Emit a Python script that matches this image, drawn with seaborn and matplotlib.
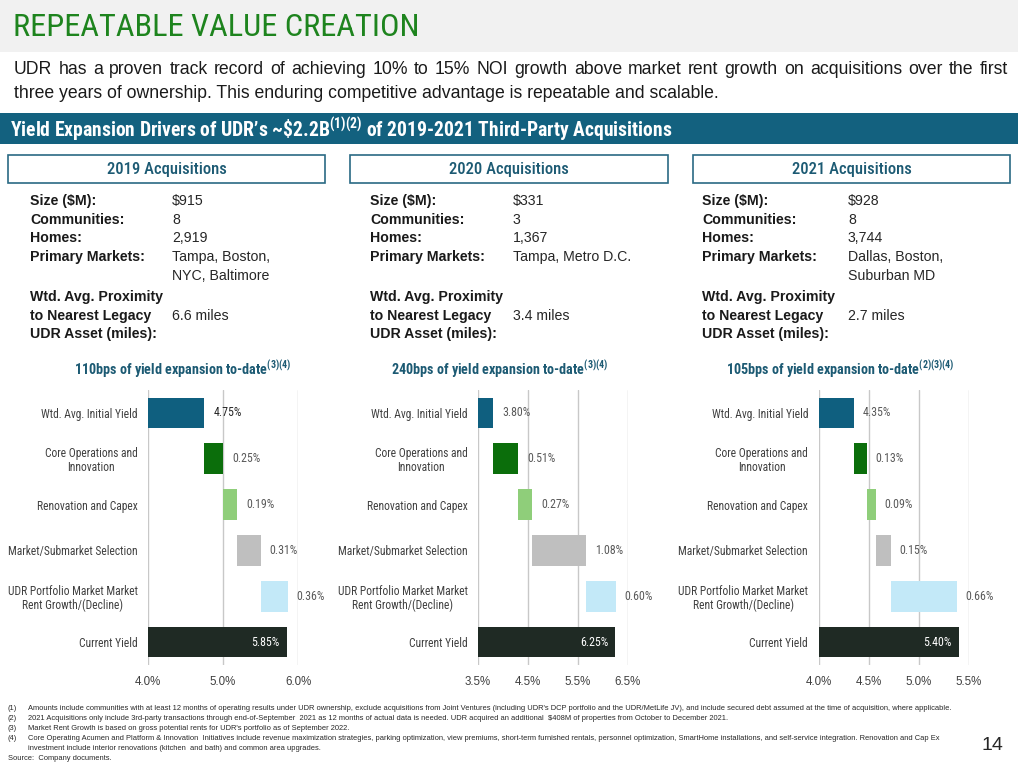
import numpy as np
import pandas as pd
import matplotlib
matplotlib.use("Agg")
import matplotlib.pyplot as plt
import seaborn as sns
from matplotlib import font_manager as fm
from matplotlib.patches import Rectangle

# ------------------------------------------------------------------ data
categories = ["Wtd. Avg. Initial Yield", "Core Operations and\nInnovation",
              "Renovation and Capex", "Market/Submarket Selection",
              "UDR Portfolio Market Market\nRent Growth/(Decline)", "Current Yield"]
yields_2019 = [4.75, 0.25, 0.19, 0.31, 0.36, 5.85]
yields_2020 = [3.80, 0.51, 0.27, 1.08, 0.60, 6.25]
yields_2021 = [4.35, 0.13, 0.09, 0.15, 0.66, 5.40]
xticks_2019 = [4.0, 5.0, 6.0]
xticks_2020 = [3.5, 4.5, 5.5, 6.5]
xticks_2021 = [4.0, 4.5, 5.0, 5.5]
chart_titles = ["110bps of yield expansion to-date",
                "240bps of yield expansion to-date",
                "105bps of yield expansion to-date"]
chart_notes = ["(3)(4)", "(3)(4)", "(2)(3)(4)"]
panel_names = ["2019 Acquisitions", "2020 Acquisitions", "2021 Acquisitions"]
size_m = ["$915", "$331", "$928"]
communities = ["8", "3", "8"]
homes = ["2,919", "1,367", "3,744"]
primary_markets = [["Tampa, Boston,", "NYC, Baltimore"],
                   ["Tampa, Metro D.C.", ""],
                   ["Dallas, Boston,", "Suburban MD"]]
proximity = ["6.6 miles", "3.4 miles", "2.7 miles"]
info_labels = ["Size ($M):", "Communities:", "Homes:", "Primary Markets:", "",
               "Wtd. Avg. Proximity", "to Nearest Legacy", "UDR Asset (miles):"]
footnotes = [
    ("(1)", "Amounts include communities with at least 12 months of operating results under UDR ownership, exclude acquisitions from Joint Ventures (including UDR's DCP portfolio and the UDR/MetLife JV), and include secured debt assumed at the time of acquisition, where applicable."),
    ("(2)", "2021 Acquisitions only include 3rd-party transactions through end-of-September  2021 as 12 months of actual data is needed. UDR acquired an additional  $408M of properties from October to December 2021."),
    ("(3)", "Market Rent Growth is based on gross potential rents for UDR's portfolio as of September 2022."),
    ("(4)", "Core Operating Acumen and Platform & Innovation  Initiatives include revenue maximization strategies, parking optimization, view premiums, short-term furnished rentals, personnel optimization, SmartHome installations, and self-service integration. Renovation and Cap Ex"),
    ("", "investment include interior renovations (kitchen  and bath) and common area upgrades."),
    ("Source:", "Company documents."),
]
subtitle_lines = ["UDR has a proven track record of achieving 10% to 15% NOI growth above market rent growth on acquisitions over the first",
                  "three years of ownership. This enduring competitive advantage is repeatable and scalable."]

# ------------------------------------------------------------------ style
bar_colors = ["#0f5f7f", "#0b6e0b", "#8fce7a", "#bfbfbf", "#c3e9f8", "#1f2a24"]
TEAL = "#13617f"
TEAL_TXT = "#1c5a73"
GREEN_TITLE = "#1e841e"

sns.set_theme(style="white")
_avail = {f.name for f in fm.fontManager.ttflist}


def pick(*names):
    for n in names:
        if n in _avail:
            return n
    return "DejaVu Sans"


SANS = pick("Liberation Sans", "Arial", "DejaVu Sans")
NARROW = pick("Liberation Sans Narrow", "Roboto Condensed", "Open Sans Condensed")
NF = 1.0
if NARROW == "DejaVu Sans":
    NARROW = SANS
    NF = 0.84
plt.rcParams["font.family"] = [SANS, "DejaVu Sans"]
plt.rcParams["mathtext.fontset"] = "custom"
plt.rcParams["mathtext.rm"] = NARROW
plt.rcParams["mathtext.bf"] = NARROW + ":bold"
plt.rcParams["mathtext.it"] = NARROW

W, H = 1018, 768
fig = plt.figure(figsize=(W / 100, H / 100), dpi=100)
fig.patch.set_facecolor("white")


def T(x, y, s, **kw):
    kw.setdefault("va", "center")
    kw.setdefault("ha", "left")
    return fig.text(x / W, 1 - y / H, s, **kw)


def R(x0, y0, x1, y1, **kw):
    fig.patches.append(Rectangle((x0 / W, 1 - y1 / H), (x1 - x0) / W, (y1 - y0) / H,
                                 transform=fig.transFigure, **kw))


def justified(x0, x1, y, text, **kw):
    words = text.split()
    r = fig.canvas.get_renderer()
    arts = [T(x0, y, w, **kw) for w in words]
    widths = [a.get_window_extent(r).width for a in arts]
    gap = (x1 - x0 - sum(widths)) / (len(words) - 1)
    x = x0
    for a, w in zip(arts, widths):
        a.set_x(x / W)
        x += w + gap


# header band
R(0, 0, W, 52, facecolor="#f1f1f1", edgecolor="none", zorder=0)
T(13, 27, "REPEATABLE VALUE CREATION", size=23.3 * NF, color=GREEN_TITLE, family=NARROW)
justified(14, 1008, 69, subtitle_lines[0], size=12.7, color="#1a1a1a", family=SANS)
T(14, 93, subtitle_lines[1], size=12.7, color="#1a1a1a", family=SANS)

# teal band
R(0, 113, W, 144, facecolor=TEAL, edgecolor="none", zorder=0)
T(10, 129.5, r"Yield Expansion Drivers of UDR’s ~\$2.2B$^{\mathbf{(1)(2)}}$ of 2019-2021 Third-Party Acquisitions",
  size=14.1 * NF, color="white", weight="bold", family=NARROW)

# panel boxes + info
box_x = [(8, 325), (350, 668), (693, 1010)]
label_x = [30, 370, 702]
value_x = [172, 513, 848]
rows_y = [201, 220, 238.5, 257, 276, 297, 315.5, 334]
for p in range(3):
    x0, x1 = box_x[p]
    R(x0, 155, x1, 183, facecolor="white", edgecolor="#2a6a84", lw=1.2, zorder=1)
    T((x0 + x1) / 2, 169.5, panel_names[p], ha="center", size=12 * NF, color=TEAL_TXT,
      family=NARROW, weight="medium", zorder=2)
    values = [size_m[p], communities[p], homes[p], primary_markets[p][0],
              primary_markets[p][1], "", proximity[p], ""]
    for yy, lab, val in zip(rows_y, info_labels, values):
        if lab:
            T(label_x[p], yy, lab, size=10.2, weight="bold", color="#1a1a1a", family=SANS)
        if val:
            T(value_x[p], yy, val, size=10.2, color="#262626", family=SANS)

# ------------------------------------------------------------------ charts
panels = [
    (yields_2019, xticks_2019, 148, 150, 183),
    (yields_2020, xticks_2020, 478, 149.6, 500),
    (yields_2021, xticks_2021, 818.5, 150, 840),
]
ax_top, ax_bot = 390, 665


def waterfall_left(vals):
    v = np.asarray(vals, float)
    left = np.zeros_like(v)
    left[1:-1] = np.cumsum(v[:-1])[:-1]
    return left


for p, (vals, ticks, axl, axw, tcx) in enumerate(panels):
    ax = fig.add_axes([axl / W, 1 - ax_bot / H, axw / W, (ax_bot - ax_top) / H])
    df = pd.DataFrame({"category": categories, "value": vals})
    left = waterfall_left(vals)
    sns.barplot(data=df, x="value", y="category", orient="h", errorbar=None,
                color=bar_colors[0], width=0.67, left=left, ax=ax, zorder=2)
    for patch, c in zip(ax.patches, bar_colors):
        patch.set_facecolor(c)
        patch.set_edgecolor("none")
    ax.set_xlim(ticks[0], ticks[-1])
    ax.set_xticks(ticks)
    ax.set_xticklabels([f"{t:.1f}%" for t in ticks])
    ax.set_xlabel("")
    ax.set_ylabel("")
    ax.grid(axis="x", color="#c8c8c8", lw=1)
    ax.grid(axis="y", visible=False)
    ax.set_axisbelow(True)
    sns.despine(ax=ax, left=True, bottom=True)
    ax.tick_params(axis="x", length=0, pad=8, labelsize=8.3, labelcolor="#404040")
    ax.tick_params(axis="y", length=0, pad=7.5, labelsize=8.3 * NF, labelcolor="#404040")
    for lbl in ax.get_yticklabels():
        lbl.set_family(NARROW)
        lbl.set_multialignment("center")
        lbl.set_linespacing(1.1)
    for lbl in ax.get_xticklabels():
        lbl.set_family(SANS)
    ends = left + np.asarray(vals)
    for i, v in enumerate(vals):
        if i == len(vals) - 1:
            ax.annotate(f"{v:.2f}%", xy=(ends[i], i), xytext=(-5, 0), textcoords="offset points",
                        ha="right", va="center", color="white", size=8.6 * NF, family=NARROW)
        else:
            col = "#262626" if (p == 0 and i == 0) else "#595959"
            ax.annotate(f"{v:.2f}%", xy=(ends[i], i), xytext=(6.5, 0), textcoords="offset points",
                        ha="left", va="center", color=col, size=8.6 * NF, family=NARROW)
    T(tcx, 369, chart_titles[p] + r"$^{\mathbf{" + chart_notes[p] + "}}$", ha="center",
      size=10.2 * NF, weight="bold", color=TEAL_TXT, family=NARROW)

# ------------------------------------------------------------------ footnotes
foot_y = [708, 718, 728.5, 739, 749, 759]
for yy, (num, txt) in zip(foot_y, footnotes):
    if num == "Source:":
        T(8, yy, num + "  " + txt, size=5.4, color="#262626", family=SANS)
    else:
        if num:
            T(8, yy, num, size=5.4, color="#262626", family=SANS)
        T(28, yy, txt, size=5.45, color="#262626", family=SANS)
T(1003, 745, "14", ha="right", size=14, color="#262626", family=SANS)

fig.savefig("out.png", dpi=100)
